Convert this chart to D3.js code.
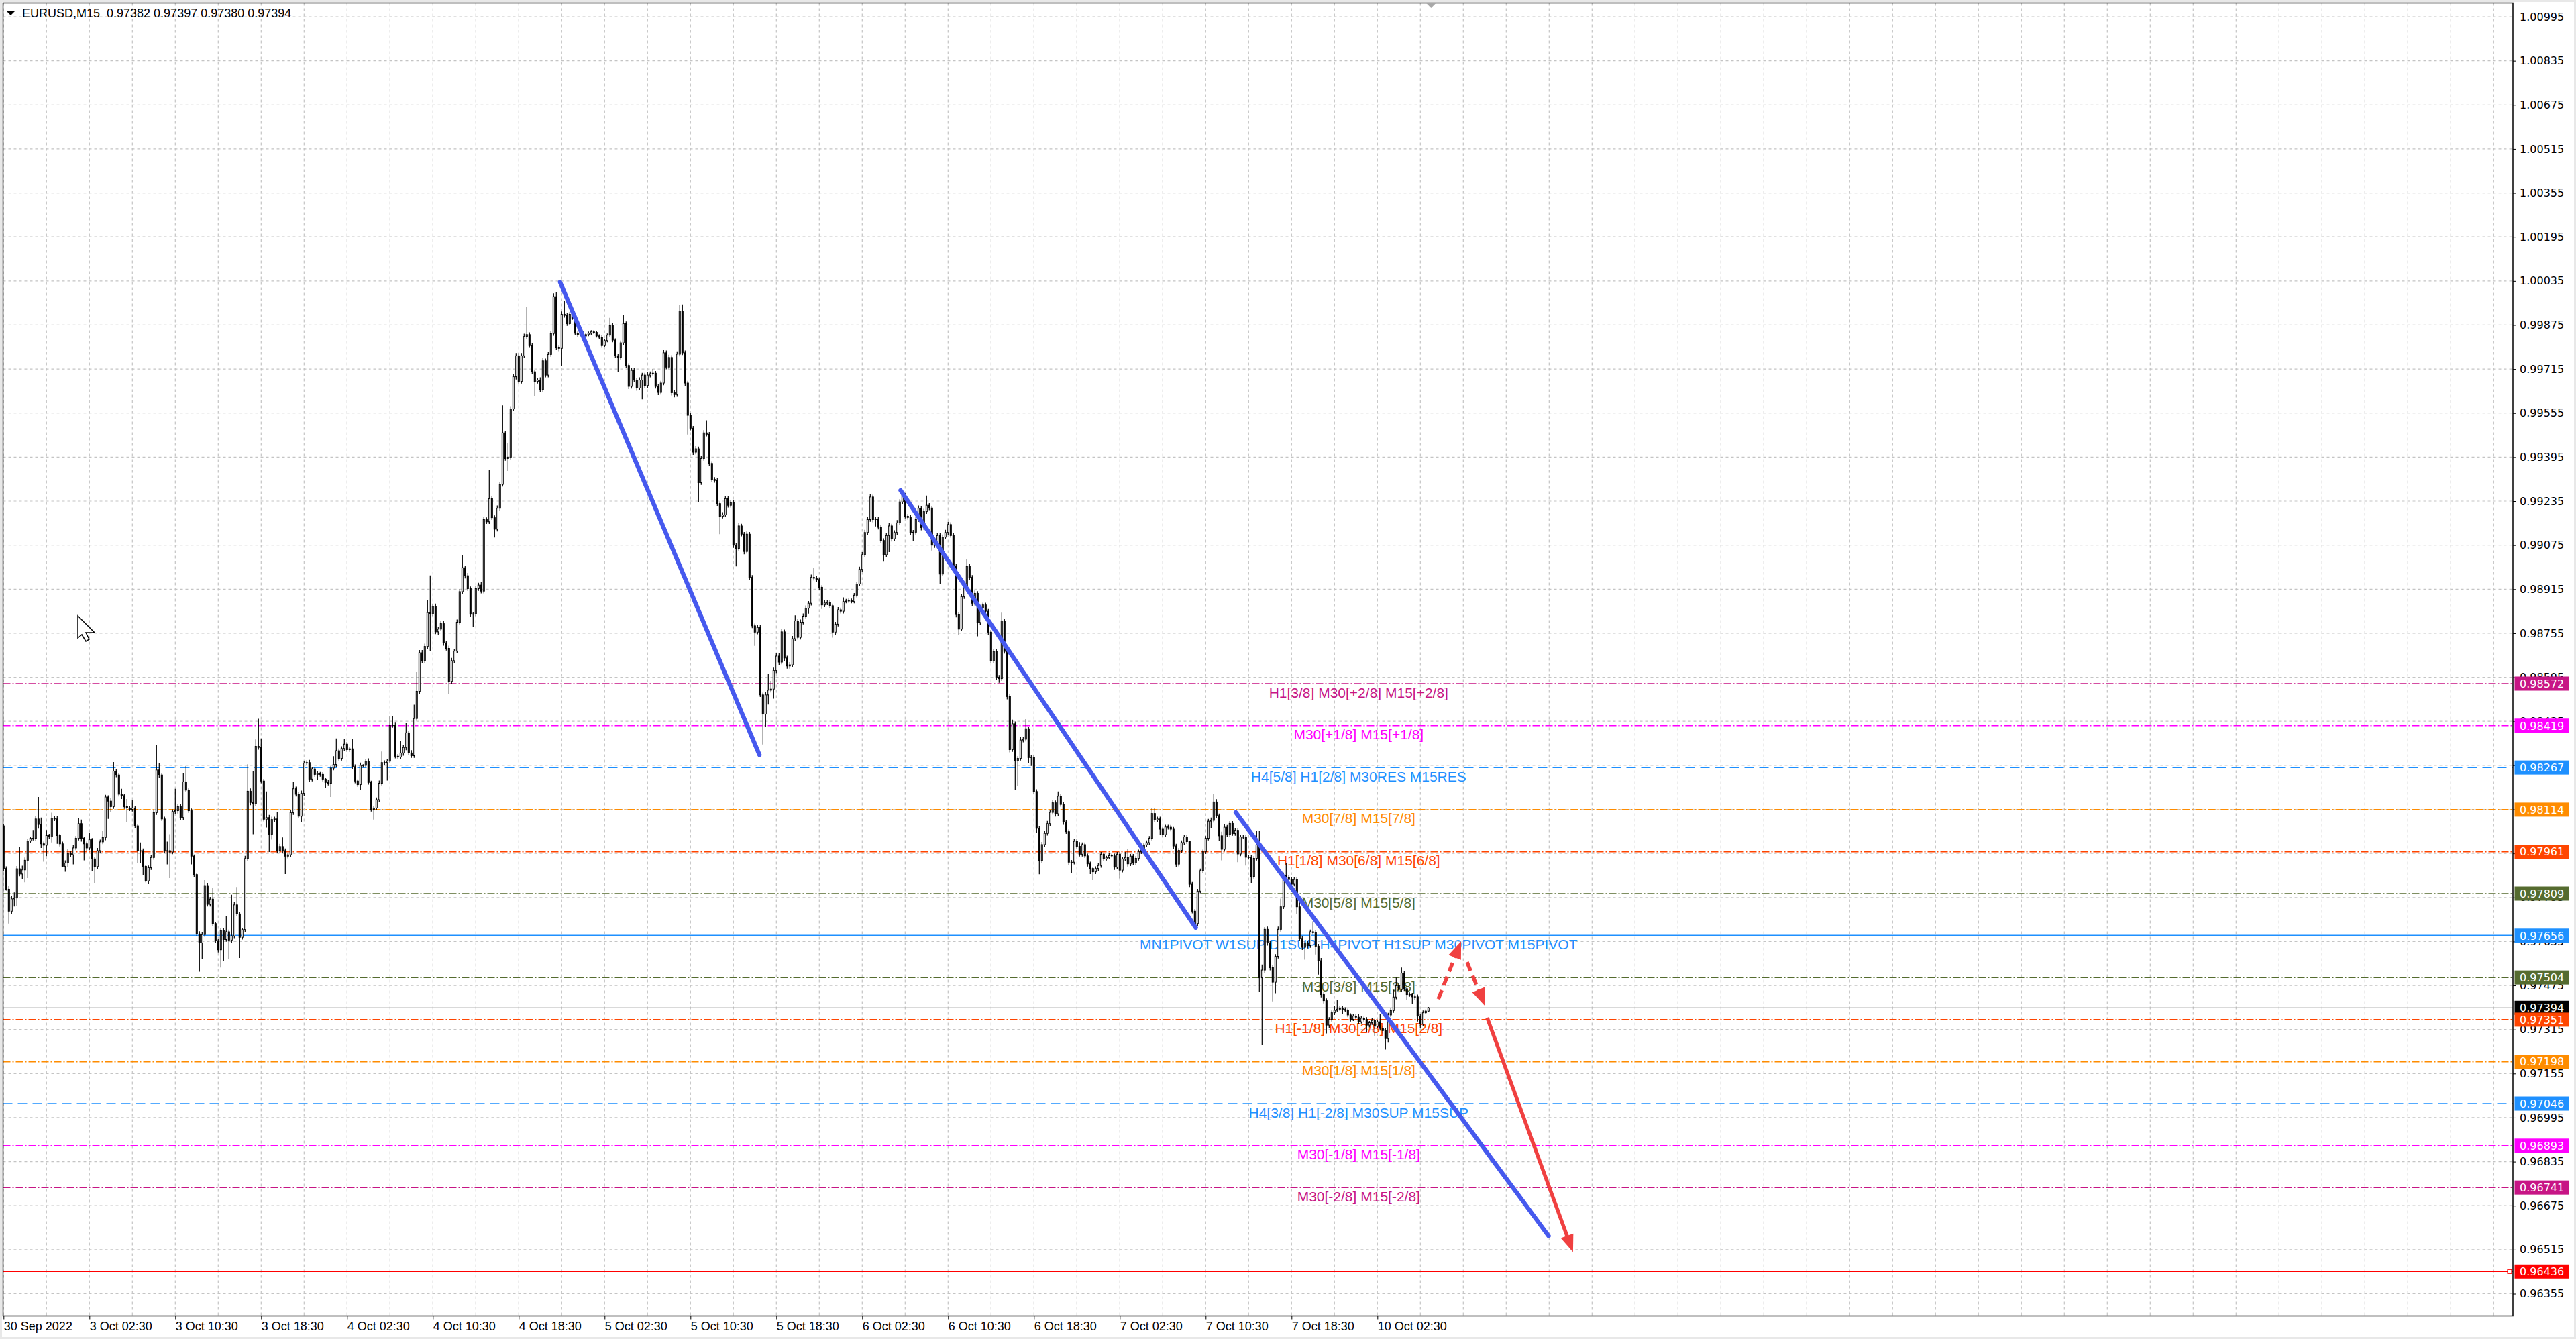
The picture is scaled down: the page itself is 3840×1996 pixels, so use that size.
<!DOCTYPE html>
<html>
<head>
<meta charset="utf-8">
<script src="https://cdnjs.cloudflare.com/ajax/libs/d3/7.8.5/d3.min.js"></script>
<style>
  body { margin: 0; background: #fff; }
  svg { display: block; }
</style>
</head>
<body>
<svg id="chart" width="3840" height="1996"></svg>
<script>
// EURUSD M15 bars, prices in points (1e-5). Open of a bar = close of the previous one.
var firstOpen = 98055;
var closePts = [
  97900,97825,97745,97790,97793,97899,97880,97895,97930,98000,
  98010,98010,98080,98060,97990,97985,98020,98015,98083,98080,
  98020,97990,97908,97920,97955,97950,97975,98010,98063,98010,
  97990,97975,98005,97935,97907,97965,97997,98013,98160,98145,
  98125,98254,98240,98170,98165,98125,98120,98115,98120,98055,
  97965,97965,97908,97855,97903,97940,98103,98258,98240,98080,
  97965,97965,97960,98107,98110,98125,98085,98215,98185,98110,
  97945,97878,97662,97630,97660,97838,97770,97789,97700,97638,
  97605,97675,97642,97670,97640,97655,97768,97735,97650,97678,
  97936,98181,98140,98135,98344,98340,98218,98079,98085,98025,
  98078,98080,97965,97980,97965,97945,97950,98103,98190,98170,
  98090,98173,98283,98285,98225,98262,98242,98245,98242,98225,
  98213,98210,98265,98278,98328,98300,98336,98352,98332,98335,
  98270,98218,98205,98275,98275,98290,98213,98115,98120,98150,
  98210,98285,98285,98290,98420,98420,98308,98305,98320,98340,
  98393,98320,98310,98445,98544,98684,98655,98707,98830,98825,
  98853,98760,98770,98790,98720,98700,98580,98655,98690,98795,
  98906,98993,98964,98917,98824,98825,98917,98930,98908,99168,
  99160,99244,99175,99133,99209,99296,99483,99390,99395,99570,
  99687,99763,99670,99763,99833,99840,99800,99705,99670,99675,
  99640,99745,99693,99768,99844,99978,99792,99790,99914,99910,
  99880,99914,99900,99845,99840,99845,99835,99840,99845,99850,
  99848,99835,99830,99800,99818,99838,99873,99820,99763,99758,
  99810,99880,99728,99652,99710,99675,99646,99675,99693,99655,
  99693,99698,99700,99652,99630,99664,99774,99722,99757,99629,
  99622,99769,99926,99774,99664,99547,99500,99413,99425,99302,
  99390,99483,99478,99372,99314,99310,99226,99180,99185,99244,
  99220,99230,99075,99063,99145,99115,99052,99115,98958,98782,
  98759,98776,98531,98461,98531,98548,98552,98620,98672,98650,
  98760,98665,98636,98640,98735,98800,98740,98795,98817,98846,
  98864,98958,98955,98950,98922,98858,98865,98868,98855,98759,
  98788,98840,98835,98870,98872,98875,98870,98893,98934,98987,
  99040,99121,99168,99250,99168,99170,99140,99092,99040,99110,
  99145,99098,99121,99156,99232,99256,99180,99176,99121,99122,
  99168,99209,99139,99197,99220,99210,99075,99080,99110,98970,
  99104,99121,99150,99110,98998,98823,98770,98888,98928,98998,
  98958,98864,98900,98794,98846,98858,98835,98759,98654,98689,
  98595,98590,98800,98689,98525,98332,98426,98291,98300,98367,
  98370,98408,98303,98305,98180,98046,97929,97987,98028,98063,
  98104,98139,98099,98163,98133,98069,98034,97923,97923,97999,
  97981,97952,97987,97946,97917,97900,97888,97900,97911,97952,
  97935,97940,97947,97946,97905,97952,97894,97935,97940,97917,
  97945,97920,97937,97961,97966,97986,97994,98010,98100,98076,
  98080,98043,98023,98051,98050,98043,97982,97916,97966,97994,
  98015,97998,97843,97745,97700,97818,97892,97961,98010,98072,
  98075,98142,98092,98019,97970,98050,98023,98064,98027,98039,
  97953,98015,98015,97941,97941,97871,97937,97986,97503,97531,
  97679,97630,97540,97487,97581,97679,97761,97875,97867,97860,
  97843,97860,97761,97646,97614,97630,97620,97670,97667,97618,
  97565,97442,97420,97331,97352,97376,97385,97389,97392,97388,
  97385,97368,97352,97364,97360,97343,97356,97352,97331,97340,
  97348,97327,97343,97319,97311,97282,97368,97384,97433,97474,
  97460,97520,97463,97442,97442,97434,97434,97364,97335,97376,
  97382,97394
];
// upper wick above the body, in points
var wickHiPts = [
  5,8,12,10,20,10,80,15,10,8,
  6,30,10,80,25,8,20,6,20,8,
  10,6,8,10,15,8,10,8,20,15,
  6,8,25,6,8,10,8,25,8,6,
  10,33,6,8,20,6,28,6,30,8,
  6,30,8,6,8,8,10,90,25,6,
  8,33,60,8,80,10,8,33,57,6,
  8,6,6,10,8,20,8,8,40,6,
  8,10,8,57,8,150,10,65,8,6,
  10,98,10,115,25,100,33,8,95,10,
  10,8,25,10,33,8,8,10,25,8,
  8,10,8,8,10,8,6,8,6,8,
  6,8,8,30,45,8,8,20,8,6,
  37,8,6,10,4,8,10,6,8,8,
  10,40,8,8,33,33,10,8,45,10,
  35,8,10,50,70,10,10,10,45,135,
  10,10,8,10,10,8,10,10,8,10,
  10,47,8,10,8,8,10,8,10,10,
  8,105,10,8,10,10,100,8,50,10,
  10,10,10,10,10,100,8,8,6,8,
  10,10,8,10,10,12,17,8,10,50,
  8,8,6,8,6,6,6,6,6,6,
  6,6,6,8,6,6,28,8,6,6,
  8,30,8,8,10,8,8,10,8,8,
  10,8,15,8,8,8,10,8,10,8,
  8,10,23,24,8,8,8,8,10,8,
  10,10,46,8,8,8,8,8,10,10,
  8,10,8,8,10,8,8,10,8,8,
  8,10,8,8,10,60,30,10,10,10,
  10,8,8,10,10,20,8,10,10,10,
  8,10,35,8,8,8,10,8,8,8,
  8,10,8,15,8,6,6,8,8,10,
  10,10,10,12,8,8,8,8,8,10,
  10,8,8,10,10,16,8,8,8,8,
  10,10,8,10,35,8,8,8,10,8,
  10,10,10,8,8,8,8,10,10,25,
  8,8,10,8,10,8,8,8,8,10,
  8,8,30,8,8,8,15,8,8,10,
  8,35,8,8,8,8,8,10,10,10,
  10,10,8,17,8,8,8,8,8,10,
  8,15,8,8,8,8,6,8,8,8,
  6,6,8,6,8,8,8,8,20,30,
  8,8,8,8,8,8,8,8,20,20,
  8,8,8,8,8,8,8,8,8,8,
  8,8,0,8,8,8,8,8,8,8,
  10,28,10,8,15,10,8,8,8,8,
  8,8,8,8,8,8,8,50,50,20,
  8,10,8,8,8,10,30,10,45,10,
  8,8,8,20,8,8,8,8,38,8,
  8,10,8,8,8,8,15,35,8,8,
  8,6,6,8,6,10,8,6,8,6,
  8,6,8,30,8,8,8,8,25,30,
  10,20,8,8,8,6,8,8,8,8,
  6,3
];
// lower wick below the body, in points
var wickLoPts = [
  10,5,45,10,28,30,8,20,45,65,
  8,8,10,15,15,60,40,8,20,8,
  30,10,0,20,15,8,35,8,8,12,
  60,10,8,45,60,8,8,8,10,65,
  20,8,8,8,12,8,50,6,8,8,
  45,45,33,5,12,8,8,8,10,8,
  8,50,95,8,8,10,8,8,8,8,
  30,8,8,105,60,8,8,8,8,8,
  10,65,77,8,70,10,8,8,75,8,
  8,8,10,110,8,8,8,8,30,65,
  20,8,8,10,8,65,8,8,8,8,
  8,20,8,8,10,8,8,20,8,8,
  20,8,50,8,8,8,8,8,8,8,
  8,8,8,20,8,8,8,8,37,8,
  8,8,10,65,8,8,8,8,8,10,
  10,8,8,8,8,10,8,10,8,135,
  8,8,10,8,10,8,47,8,8,8,
  8,8,10,8,10,47,8,8,8,8,
  8,8,8,30,8,8,8,8,45,8,
  8,10,8,8,8,8,8,8,53,8,
  8,8,8,8,8,8,8,10,64,8,
  8,6,6,6,8,6,6,6,6,6,
  6,6,6,8,6,6,8,8,8,55,
  8,8,8,10,8,8,10,8,70,8,
  8,8,6,8,10,8,8,8,8,10,
  10,8,8,8,10,70,8,10,8,70,
  8,8,8,8,8,8,10,65,8,8,
  8,8,10,65,8,8,10,8,8,8,
  50,8,8,110,45,35,8,35,10,10,
  8,10,10,10,8,8,8,8,8,8,
  20,8,8,8,10,15,8,8,8,20,
  10,8,8,8,6,6,6,6,8,8,
  10,8,8,8,10,25,8,8,25,8,
  60,10,8,8,8,8,8,8,10,30,
  8,8,10,8,8,8,20,10,8,35,
  8,8,8,8,20,10,20,8,8,8,
  8,10,8,50,8,8,8,10,8,8,
  10,15,8,8,10,10,8,105,90,8,
  8,8,20,30,10,15,50,8,8,8,
  8,8,10,8,8,10,8,10,40,8,
  8,8,8,8,10,20,30,8,8,8,
  8,6,6,6,10,8,30,8,8,10,
  8,8,8,8,8,8,8,8,8,8,
  8,20,10,8,8,8,10,10,8,8,
  8,8,10,8,20,8,8,8,8,8,
  25,8,8,20,40,8,8,8,8,8,
  30,8,8,30,8,25,8,8,50,245,
  10,10,10,70,40,8,8,8,10,8,
  20,8,25,10,10,45,10,8,8,30,
  50,10,10,30,10,8,8,6,6,15,
  6,8,8,6,8,8,6,8,25,8,
  8,35,8,8,10,40,15,8,8,8,
  10,8,8,20,8,25,10,20,15,8,
  6,2
];

var symbol = "EURUSD,M15";

var yTickLabels = ["1.00995","1.00835","1.00675","1.00515","1.00355","1.00195","1.00035",
  "0.99875","0.99715","0.99555","0.99395","0.99235","0.99075","0.98915","0.98755",
  "0.98595","0.98435","0.98275","0.98115","0.97955","0.97795","0.97635","0.97475",
  "0.97315","0.97155","0.96995","0.96835","0.96675","0.96515","0.96355"];

var xTickBars = [0,32,64,96,128,160,192,224,256,288,320,352,384,416,448,480,512];
var xTickLabels = ["30 Sep 2022","3 Oct 02:30","3 Oct 10:30","3 Oct 18:30","4 Oct 02:30",
  "4 Oct 10:30","4 Oct 18:30","5 Oct 02:30","5 Oct 10:30","5 Oct 18:30","6 Oct 02:30",
  "6 Oct 10:30","6 Oct 18:30","7 Oct 02:30","7 Oct 10:30","7 Oct 18:30","10 Oct 02:30"];

// murrey / pivot levels
var levelPrices = [0.98572,0.98419,0.98267,0.98114,0.97961,0.97809,0.97656,
  0.97504,0.97351,0.97198,0.97046,0.96893,0.96741,0.96436];
var levelNames = [
  "H1[3/8] M30[+2/8] M15[+2/8]",
  "M30[+1/8] M15[+1/8]",
  "H4[5/8] H1[2/8] M30RES M15RES",
  "M30[7/8] M15[7/8]",
  "H1[1/8] M30[6/8] M15[6/8]",
  "M30[5/8] M15[5/8]",
  "MN1PIVOT W1SUP D1SUP H4PIVOT H1SUP M30PIVOT M15PIVOT",
  "M30[3/8] M15[3/8]",
  "H1[-1/8] M30[2/8] M15[2/8]",
  "M30[1/8] M15[1/8]",
  "H4[3/8] H1[-2/8] M30SUP M15SUP",
  "M30[-1/8] M15[-1/8]",
  "M30[-2/8] M15[-2/8]",
  ""
];
var levelColors = ["#C71585","#FF00FF","#1E90FF","#FF8C00","#FF4500","#556B2F","#1E90FF",
  "#556B2F","#FF4500","#FF8C00","#1E90FF","#FF00FF","#C71585","#FF0000"];
var levelStyles = ["dashdot","dashdot","dash","dashdot","dashdot","dashdot","solid",
  "dashdot","dashdot","dashdot","dash","dashdot","dashdot","solid"];

// trend lines and forecast arrows: [bar index, price]
var trendStart = [[207.4, 1.00031], [334.3, 0.99274], [459.2, 0.98104]];
var trendEnd   = [[281.7, 0.98313], [444.3, 0.97685], [575.8, 0.96565]];
var arrowStart = [[534.7, 0.97426], [545.4, 0.97560], [552.9, 0.97358]];
var arrowEnd   = [[543.2, 0.97636], [552.1, 0.97401], [584.9, 0.96506]];
var arrowDashed = [true, true, false];

var labelBar = 505;   // where the level texts sit
var shiftBar = 532;   // chart shift marker

// ---------------------------------------------------------------
var W = 3840, H = 1996;
var plotL = 4.5, plotT = 4.5, plotR = 3746, plotB = 1961.5;

var x = d3.scaleLinear().domain([0, 935]).range([5.3, 5.3 + 4 * 935]);
var y = d3.scaleLinear().domain([1.00995, 0.96355]).range([25, 1928.5]);

var bars = closePts.map(function(c, i) {
  var o = i === 0 ? firstOpen : closePts[i - 1];
  return {
    i: i,
    o: o / 1e5,
    c: c / 1e5,
    h: (Math.max(o, c) + (wickHiPts[i] || 0)) / 1e5,
    l: (Math.min(o, c) - (wickLoPts[i] || 0)) / 1e5
  };
});
var last = bars[bars.length - 1];

var svg = d3.select("#chart");

svg.append("rect").attr("width", W).attr("height", H).attr("fill", "#e8e8e8");
svg.append("rect").attr("x", 3).attr("y", 3).attr("width", W - 6).attr("height", H - 6).attr("fill", "#fff");

svg.append("clipPath").attr("id", "plot")
  .append("rect")
    .attr("x", plotL).attr("y", plotT)
    .attr("width", plotR - plotL).attr("height", plotB - plotT);

var g = svg.append("g").attr("clip-path", "url(#plot)");

// grid
g.selectAll(".vgrid")
  .data(d3.range(0, 936, 16))
  .enter().append("line")
    .attr("x1", function(d) { return x(d); })
    .attr("x2", function(d) { return x(d); })
    .attr("y1", plotT).attr("y2", plotB)
    .attr("stroke", "#c4c4c4").attr("stroke-width", 1.2)
    .attr("stroke-dasharray", "4,4");

g.selectAll(".hgrid")
  .data(yTickLabels)
  .enter().append("line")
    .attr("x1", plotL).attr("x2", plotR)
    .attr("y1", function(d) { return y(+d); })
    .attr("y2", function(d) { return y(+d); })
    .attr("stroke", "#c4c4c4").attr("stroke-width", 1.2)
    .attr("stroke-dasharray", "4,4");

// level lines
var dashes = { dashdot: "11,3,2,3", dash: "14,8", solid: null };

g.selectAll(".level")
  .data(levelPrices)
  .enter().append("line")
    .attr("x1", plotL).attr("x2", plotR)
    .attr("y1", function(d) { return y(d); })
    .attr("y2", function(d) { return y(d); })
    .attr("stroke", function(d, i) { return levelColors[i]; })
    .attr("stroke-width", function(d, i) { return i === 6 ? 2.6 : 1.6; })
    .attr("stroke-dasharray", function(d, i) { return dashes[levelStyles[i]]; });

// level texts
g.selectAll(".levelText")
  .data(levelPrices)
  .enter().append("text")
    .attr("x", x(labelBar))
    .attr("y", function(d) { return y(d) + 20.5; })
    .attr("text-anchor", "middle")
    .attr("font-family", "Liberation Sans, Arial, sans-serif")
    .attr("font-size", 21)
    .attr("fill", function(d, i) { return levelColors[i]; })
    .text(function(d, i) { return levelNames[i]; });

// bid line
g.append("line")
  .attr("x1", plotL).attr("x2", plotR)
  .attr("y1", y(last.c)).attr("y2", y(last.c))
  .attr("stroke", "#b4b4b4").attr("stroke-width", 1.3);

// red level marker
g.append("rect")
  .attr("x", plotR - 8).attr("y", y(levelPrices[13]) - 3)
  .attr("width", 6).attr("height", 6)
  .attr("fill", "#fff").attr("stroke", "#FF0000").attr("stroke-width", 1.2);

// candles
var candle = g.selectAll(".bar")
  .data(bars)
  .enter().append("g");

candle.append("line")
  .attr("x1", function(d) { return x(d.i); })
  .attr("x2", function(d) { return x(d.i); })
  .attr("y1", function(d) { return y(d.h); })
  .attr("y2", function(d) { return y(d.l); })
  .attr("stroke", "#000").attr("stroke-width", 1.2);

candle.append("rect")
  .attr("x", function(d) { return x(d.i) - 1; })
  .attr("width", 2)
  .attr("y", function(d) { return y(Math.max(d.o, d.c)); })
  .attr("height", function(d) { return Math.max(0.4, Math.abs(y(d.o) - y(d.c))); })
  .attr("fill", function(d) { return d.c > d.o ? "#fff" : "#000"; })
  .attr("stroke", "#000").attr("stroke-width", 1);

// trend lines
g.selectAll(".trend")
  .data(trendStart)
  .enter().append("line")
    .attr("x1", function(d) { return x(d[0]); })
    .attr("y1", function(d) { return y(d[1]); })
    .attr("x2", function(d, i) { return x(trendEnd[i][0]); })
    .attr("y2", function(d, i) { return y(trendEnd[i][1]); })
    .attr("stroke", "#4659EE").attr("stroke-width", 6.5)
    .attr("stroke-linecap", "round");

// forecast arrows
arrowStart.forEach(function(s, i) {
  var x1 = x(s[0]), y1 = y(s[1]);
  var x2 = x(arrowEnd[i][0]), y2 = y(arrowEnd[i][1]);
  var len = Math.hypot(x2 - x1, y2 - y1);
  var ux = (x2 - x1) / len, uy = (y2 - y1) / len;
  var head = 26, half = 10;
  g.append("line")
    .attr("x1", x1).attr("y1", y1)
    .attr("x2", x2 - ux * (head - 4)).attr("y2", y2 - uy * (head - 4))
    .attr("stroke", "#F04040").attr("stroke-width", 5.5)
    .attr("stroke-dasharray", arrowDashed[i] ? "14,8" : null);
  var bx = x2 - ux * head, by = y2 - uy * head;
  g.append("polygon")
    .attr("points", [
      [x2, y2],
      [bx - uy * half, by + ux * half],
      [bx + uy * half, by - ux * half]
    ].map(function(p) { return p.join(","); }).join(" "))
    .attr("fill", "#F04040");
});

// frame
svg.append("rect")
  .attr("x", plotL).attr("y", plotT)
  .attr("width", plotR - plotL).attr("height", plotB - plotT)
  .attr("fill", "none").attr("stroke", "#000").attr("stroke-width", 1.5);

// price axis
var yAxis = d3.axisRight(y)
  .tickValues(yTickLabels.map(Number))
  .tickFormat(d3.format(".5f"))
  .tickSize(5).tickPadding(5);

var ya = svg.append("g")
  .attr("transform", "translate(" + plotR + ",0)")
  .call(yAxis);
ya.select(".domain").remove();
ya.selectAll("line").attr("stroke", "#000");
ya.selectAll("text")
  .attr("font-family", "DejaVu Sans, Verdana, sans-serif")
  .attr("font-size", 16).attr("fill", "#000");

// time axis
var xAxis = d3.axisBottom(x)
  .tickValues(xTickBars)
  .tickFormat(function(d, i) { return xTickLabels[i]; })
  .tickSize(5);

var xa = svg.append("g")
  .attr("transform", "translate(0," + plotB + ")")
  .call(xAxis);
xa.select(".domain").remove();
xa.selectAll("line").attr("stroke", "#000");
xa.selectAll("text")
  .attr("text-anchor", "start")
  .attr("x", 0).attr("y", 9).attr("dy", "0.71em")
  .attr("font-family", "Liberation Sans, Arial, sans-serif")
  .attr("font-size", 18).attr("fill", "#000");

// price boxes on the axis
function priceBox(p, color) {
  var yy = y(p);
  svg.append("rect")
    .attr("x", plotR + 2.5).attr("y", yy - 10.5)
    .attr("width", 80.5).attr("height", 21)
    .attr("fill", color);
  svg.append("text")
    .attr("x", plotR + 10).attr("y", yy).attr("dy", "0.36em")
    .attr("font-family", "DejaVu Sans, Verdana, sans-serif")
    .attr("font-size", 16).attr("fill", "#fff")
    .text(d3.format(".5f")(p));
}
priceBox(last.c, "#000");
levelPrices.forEach(function(p, i) { priceBox(p, levelColors[i]); });

// header
svg.append("polygon").attr("points", "9,16 23,16 16,23").attr("fill", "#000");
var f5 = d3.format(".5f");
svg.append("text")
  .attr("x", 33).attr("y", 26)
  .attr("font-family", "Liberation Sans, Arial, sans-serif")
  .attr("font-size", 18).attr("fill", "#000")
  .attr("xml:space", "preserve")
  .text(symbol + "  " + [last.o, last.h, last.l, last.c].map(f5).join(" "));

// chart shift marker
var sx = x(shiftBar);
svg.append("polygon")
  .attr("points", (sx - 7) + ",5 " + (sx + 7) + ",5 " + sx + ",12")
  .attr("fill", "#a8a8a8");

// mouse pointer left on the screenshot
svg.append("path")
  .attr("d", "M116,918 L116,951 L122,946 L128,956 L133,953 L128,943 L141,943 Z")
  .attr("fill", "#fff").attr("stroke", "#000").attr("stroke-width", 1.5)
  .attr("stroke-linejoin", "miter");
</script>
</body>
</html>
